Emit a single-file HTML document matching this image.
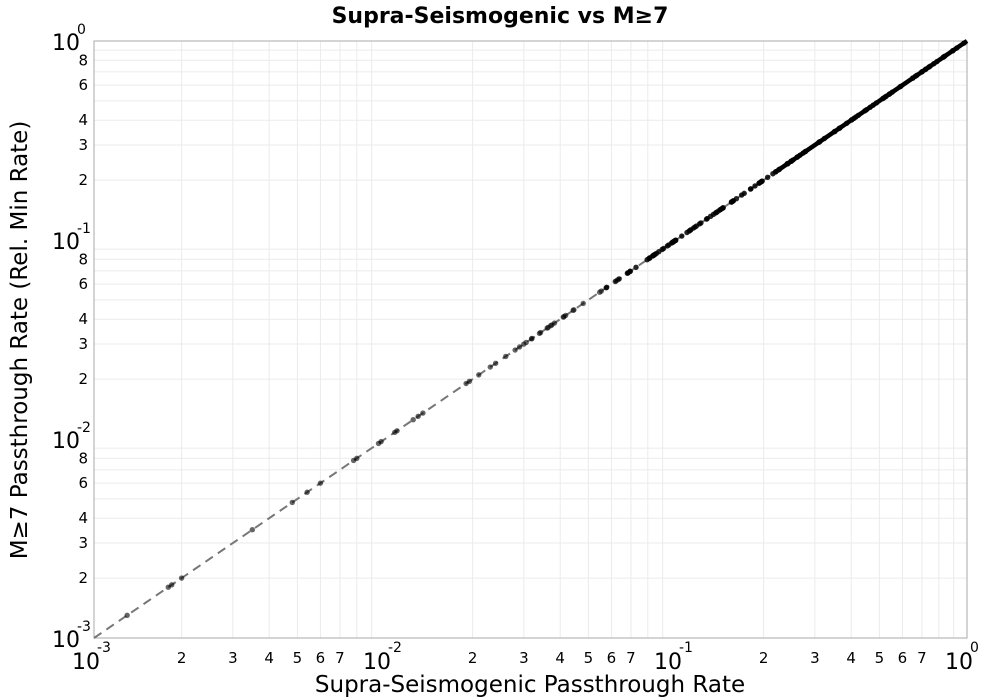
<!DOCTYPE html>
<html><head><meta charset="utf-8"><style>
body{margin:0;background:#fff;}
svg{display:block;font-family:"Liberation Sans","DejaVu Sans",sans-serif;}
</style></head><body>
<svg id="s" width="1000" height="700" xmlns="http://www.w3.org/2000/svg">
<rect width="1000" height="700" fill="#fff"/>
<text x="500" y="23" text-anchor="middle" font-size="22" font-weight="bold" font-family="DejaVu Sans, sans-serif">Supra-Seismogenic vs M≥7</text>
<g id="grid"></g>
<rect x="94" y="41" width="873" height="597" fill="none" stroke="#aaa" stroke-width="1"/>
<line x1="94" y1="638" x2="967" y2="41" stroke="#777" stroke-width="2" stroke-dasharray="9,6"/>
<g id="pts"></g>
<g id="lbl" font-family="DejaVu Sans, sans-serif"></g>
<text x="530" y="692" text-anchor="middle" font-size="23" font-family="DejaVu Sans, sans-serif">Supra-Seismogenic Passthrough Rate</text>
<text transform="translate(27,340) rotate(-90)" text-anchor="middle" font-size="23" font-family="DejaVu Sans, sans-serif">M≥7 Passthrough Rate (Rel. Min Rate)</text>
</svg>
<script>
var ns="http://www.w3.org/2000/svg";
function el(p,t,a,txt){var e=document.createElementNS(ns,t);for(var k in a)e.setAttribute(k,a[k]);if(txt!==undefined)e.textContent=txt;p.appendChild(e);return e;}
var L=94,R=967,T=41,B=638,dx=(R-L)/3,dy=(B-T)/3;
function X(v){return L+(Math.log10(v)+3)*dx;}
function Y(v){return B-(Math.log10(v)+3)*dy;}
var g=document.getElementById('grid'),lb=document.getElementById('lbl');
var exps=["-3","-2","-1","0"];
for(var d=0;d<3;d++){for(var m=1;m<10;m++){var v=m*Math.pow(10,d-3);
 if(m>1){el(g,'line',{x1:X(v),x2:X(v),y1:T,y2:B,stroke:'#ebebeb'});el(g,'line',{y1:Y(v),y2:Y(v),x1:L,x2:R,stroke:'#ebebeb'});
  if(m<=7)el(lb,'text',{x:X(v),y:663,'text-anchor':'middle','font-size':'15'},m);
  if(m!=5&&m!=7&&m!=9)el(lb,'text',{x:88,y:Y(v)+5,'text-anchor':'end','font-size':'15'},m);
 }}}
for(var d=0;d<4;d++){
 el(lb,'text',{x:X(Math.pow(10,d-3))-22,y:669,'font-size':'22'},'10');
 el(lb,'text',{x:X(Math.pow(10,d-3))+3,y:652,'font-size':'14'},exps[d]);
 el(lb,'text',{x:52,y:Y(Math.pow(10,d-3))+9,'font-size':'22'},'10');
 el(lb,'text',{x:77,y:Y(Math.pow(10,d-3))-7,'font-size':'14'},exps[d]);
}
var p=document.getElementById('pts');
var seed=7;function rnd(){seed=(seed*9301+49297)%233280;return seed/233280;}
var vals=[0.0013,0.0018,0.00185,0.002,0.0035,0.0048,0.0054,0.006,0.0078,0.008,0.0095,0.0097,0.0108,0.011,0.0125,0.013,0.0135,0.019,0.0195,0.021,0.023,0.024,0.026,0.028,0.029,0.03];
for(var i=0;i<40;i++)vals.push(Math.pow(10,-1.55+rnd()*0.7));
for(var i=0;i<120;i++)vals.push(Math.pow(10,-1.1+rnd()*1.1));
vals.forEach(function(v){el(p,'circle',{cx:X(v),cy:Y(v),r:2.7,fill:'#000','fill-opacity':Math.log10(v)>-1.2?0.85:0.6});});
el(p,'line',{x1:X(0.22),y1:Y(0.22),x2:X(1),y2:Y(1),stroke:'#000','stroke-width':4.5});
</script>
</body></html>
